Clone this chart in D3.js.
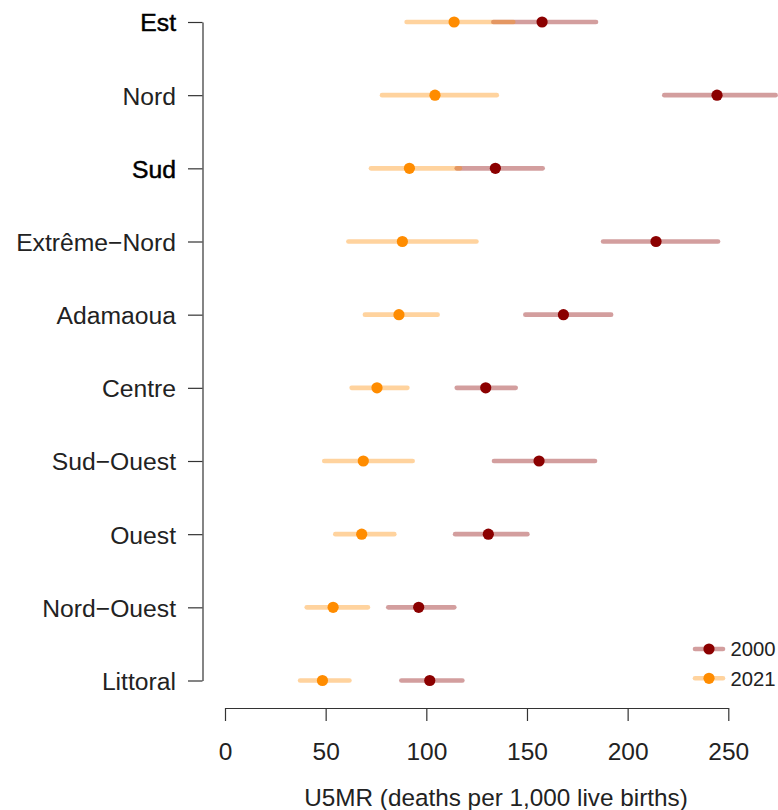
<!DOCTYPE html>
<html>
<head>
<meta charset="utf-8">
<script src="https://cdn.jsdelivr.net/npm/d3@7"></script>
<style>
  html, body { margin: 0; padding: 0; background: #fff; }
  svg { display: block; font-family: "Liberation Sans", Arial, Helvetica, sans-serif; }
</style>
</head>
<body>
<svg id="chart" width="778" height="810"></svg>
<script>
const regions = ["Est", "Nord", "Sud", "Extrême−Nord", "Adamaoua", "Centre", "Sud−Ouest", "Ouest", "Nord−Ouest", "Littoral"];
const emphasised = ["Est", "Sud"];

const est2000 = [157.5, 244.4, 134.3, 214.1, 168.1, 129.5, 156.0, 130.8, 96.2, 101.7];
const lo2000  = [133.3, 218.2, 115.1, 187.8, 149.2, 115.1, 133.6, 114.3, 81.1, 87.6];
const hi2000  = [184.3, 273.5, 157.8, 244.9, 191.8, 144.4, 183.8, 150.2, 113.9, 117.9];

const est2021 = [113.8, 104.3, 91.6, 88.1, 86.4, 75.5, 68.7, 67.9, 53.7, 48.4];
const lo2021  = [90.2, 78.0, 72.5, 61.3, 69.5, 62.9, 49.3, 54.8, 40.6, 37.3];
const hi2021  = [143.2, 135.0, 116.7, 124.9, 105.6, 90.6, 93.2, 84.1, 71.0, 61.8];

const xTicks = [0, 50, 100, 150, 200, 250];
const seriesNames = ["2000", "2021"];
const xTitle = "U5MR (deaths per 1,000 live births)";

const colPoint = { "2000": "#8B0000", "2021": "#FF8C00" };
const lineAlpha = 0.38;

const svg = d3.select("#chart");
const x = d3.scaleLinear().domain([0, 250]).range([225, 728.3]);
const y = d3.scalePoint().domain(regions).range([22, 680.5]);

const series = [
  { name: "2000", est: est2000, lo: lo2000, hi: hi2000 },
  { name: "2021", est: est2021, lo: lo2021, hi: hi2021 }
];

const plot = svg.append("g");

// CI lines
series.forEach(s => {
  plot.append("g").selectAll("line")
    .data(regions)
    .join("line")
    .attr("x1", (d, i) => x(s.lo[i]))
    .attr("x2", (d, i) => x(s.hi[i]))
    .attr("y1", d => y(d))
    .attr("y2", d => y(d))
    .attr("stroke", colPoint[s.name])
    .attr("stroke-opacity", lineAlpha)
    .attr("stroke-width", 4.6)
    .attr("stroke-linecap", "round");
});

// Points
series.forEach(s => {
  plot.append("g").selectAll("circle")
    .data(regions)
    .join("circle")
    .attr("cx", (d, i) => x(s.est[i]))
    .attr("cy", d => y(d))
    .attr("r", 5.6)
    .attr("fill", colPoint[s.name]);
});

// Y axis
const yAxis = svg.append("g")
  .attr("transform", "translate(202.5,0)")
  .call(d3.axisLeft(y).tickSize(14.5).tickSizeOuter(0).tickPadding(12));
yAxis.select(".domain").attr("stroke", "#333").attr("stroke-width", 1.2);
yAxis.selectAll(".tick line").attr("stroke", "#333").attr("stroke-width", 1.2);
yAxis.selectAll(".tick text")
  .attr("font-size", "24.7px")
  .attr("font-family", "'Liberation Sans', Arial, sans-serif")
  .attr("dy", "0.36em")
  .attr("fill", d => emphasised.includes(d) ? "#000" : "#222")
  .attr("stroke", d => emphasised.includes(d) ? "#000" : "none")
  .attr("stroke-width", d => emphasised.includes(d) ? 0.5 : 0);

// X axis
const xAxis = svg.append("g")
  .attr("transform", "translate(0,708)")
  .call(d3.axisBottom(x).tickValues(xTicks).tickSize(13).tickSizeOuter(0).tickPadding(22).tickFormat(d3.format("d")));
xAxis.select(".domain").attr("stroke", "#333").attr("stroke-width", 1.2);
xAxis.selectAll(".tick line").attr("stroke", "#333").attr("stroke-width", 1.2);
xAxis.selectAll(".tick text")
  .attr("font-size", "24.5px")
  .attr("font-family", "'Liberation Sans', Arial, sans-serif")
  .attr("fill", "#222");

// X title (centred on the full plotting region)
svg.append("text")
  .attr("x", 496)
  .attr("y", 806)
  .attr("text-anchor", "middle")
  .attr("font-size", "24.3px")
  .attr("fill", "#222")
  .text(xTitle);

// Legend
const legendY = [649, 678.3];
const legend = svg.append("g");
seriesNames.forEach((name, i) => {
  const g = legend.append("g");
  g.append("line")
    .attr("x1", 695).attr("x2", 723)
    .attr("y1", legendY[i]).attr("y2", legendY[i])
    .attr("stroke", colPoint[name])
    .attr("stroke-opacity", lineAlpha)
    .attr("stroke-width", 4.6)
    .attr("stroke-linecap", "round");
  g.append("circle")
    .attr("cx", 709).attr("cy", legendY[i]).attr("r", 5.6)
    .attr("fill", colPoint[name]);
  g.append("text")
    .attr("x", 730.5)
    .attr("y", legendY[i] + 7.3)
    .attr("font-size", "20.3px")
    .attr("fill", "#222")
    .text(name);
});
</script>
</body>
</html>
